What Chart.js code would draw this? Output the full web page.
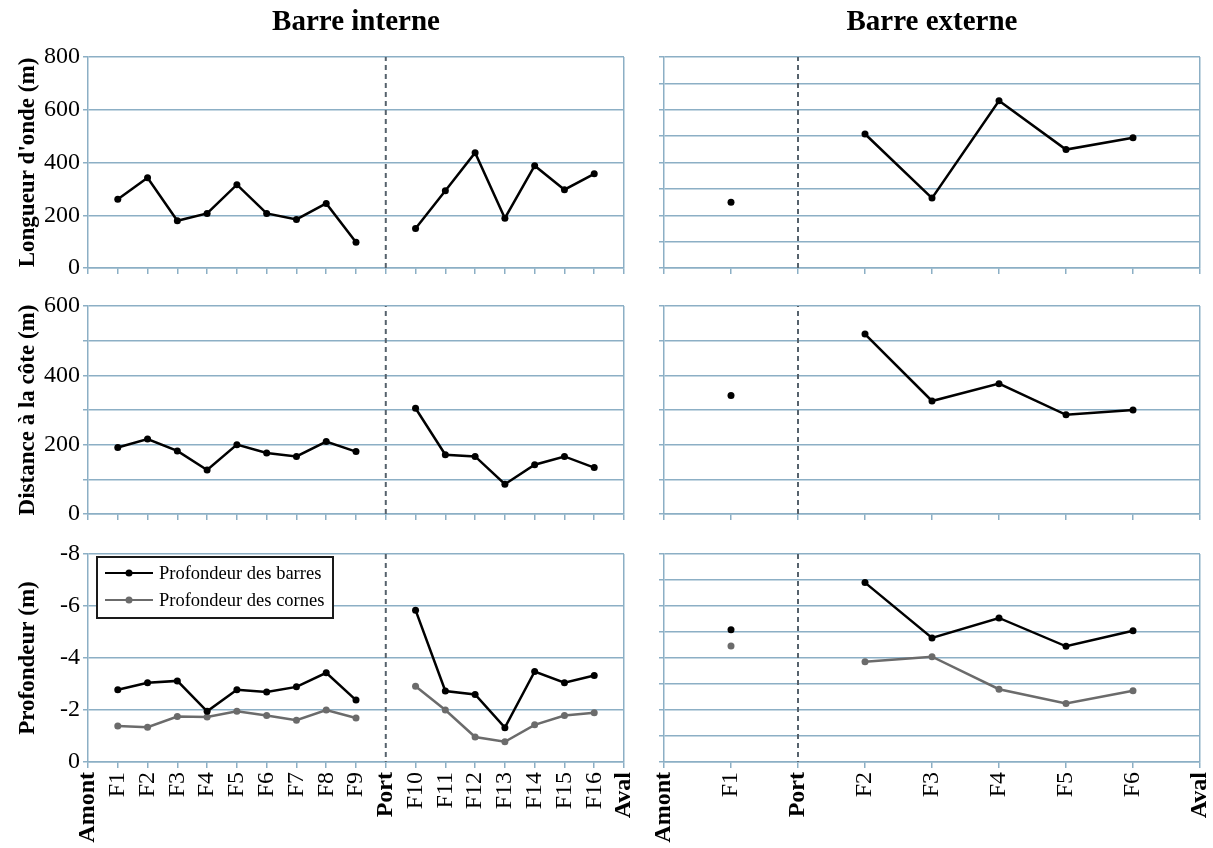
<!DOCTYPE html>
<html>
<head>
<meta charset="utf-8">
<script src="https://cdn.jsdelivr.net/npm/chart.js@4/dist/chart.umd.min.js"></script>
<style>
  html, body { margin:0; padding:0; background:#fff; width:1213px; height:848px; overflow:hidden; position:relative; }
  canvas { position:absolute; }
</style>
</head>
<body>
<canvas id="c11"></canvas>
<canvas id="c12"></canvas>
<canvas id="c21"></canvas>
<canvas id="c22"></canvas>
<canvas id="c31"></canvas>
<canvas id="c32"></canvas>
<script>
// ---------- data ----------
const labelsInterne = ['Amont','F1','F2','F3','F4','F5','F6','F7','F8','F9','Port','F10','F11','F12','F13','F14','F15','F16','Aval'];
const labelsExterne = ['Amont','F1','Port','F2','F3','F4','F5','F6','Aval'];
const boldLabels = ['Amont','Port','Aval'];

const longueurInterne = [null,261,342,179,207,316,207,184,245,98,null,150,293,437,189,388,297,357,null];
const longueurExterne = [null,249,null,508,265,634,449,494,null];

const distanceInterne = [null,192,216,182,127,200,176,166,209,180,null,305,171,166,86,142,166,134,null];
const distanceExterne = [null,342,null,519,326,376,286,300,null];

const barresInterne = [null,-2.78,-3.05,-3.12,-1.95,-2.78,-2.69,-2.89,-3.43,-2.38,null,-5.84,-2.73,-2.60,-1.32,-3.48,-3.05,-3.33,null];
const cornesInterne = [null,-1.38,-1.34,-1.75,-1.73,-1.95,-1.79,-1.61,-2.00,-1.69,null,-2.91,-2.00,-0.96,-0.78,-1.43,-1.79,-1.89,null];
const barresExterne = [null,-5.09,null,-6.90,-4.77,-5.54,-4.45,-5.05,null];
const cornesExterne = [null,-4.46,null,-3.86,-4.05,-2.80,-2.25,-2.74,null];

const titles = ['Barre interne','Barre externe'];
const axisTitles = ["Longueur d'onde (m)", 'Distance à la côte (m)', 'Profondeur (m)'];
const seriesNames = ['Profondeur des barres','Profondeur des cornes'];
const dividerLabel = 'Port';

// axis ranges
const longueurRange = [0, 800, 100, 200];
const distanceRange = [0, 600, 100, 200];
const profondeurRange = [-8, 0, 1, 2];

// ---------- styles ----------
const FONT = "'Liberation Serif', 'Times New Roman', serif";
const GRID = '#8cafc5';
const BLACK = '#000000';
const GREY = '#6b6b6b';

const boxLegend = {
  id: 'boxLegend',
  afterDatasetsDraw(chart, args, opts) {
    if (!opts || !opts.show) return;
    const { ctx, chartArea } = chart;
    const x0 = chartArea.left + opts.dx, y0 = chartArea.top + opts.dy;
    ctx.save();
    ctx.fillStyle = '#ffffff';
    ctx.fillRect(x0, y0, opts.w, opts.h);
    ctx.lineWidth = 2;
    ctx.strokeStyle = '#1a1a1a';
    ctx.strokeRect(x0, y0, opts.w, opts.h);
    const items = chart.data.datasets.filter(d => !d.isDivider);
    items.forEach((d, i) => {
      const y = y0 + opts.rowTop + i * opts.rowGap;
      ctx.strokeStyle = d.borderColor;
      ctx.lineWidth = 2;
      ctx.beginPath();
      ctx.moveTo(x0 + 8, y);
      ctx.lineTo(x0 + 56, y);
      ctx.stroke();
      ctx.fillStyle = d.pointBackgroundColor;
      ctx.beginPath();
      ctx.arc(x0 + 32, y, 3.5, 0, Math.PI * 2);
      ctx.fill();
      ctx.fillStyle = '#000';
      ctx.font = '18.5px ' + FONT;
      ctx.textBaseline = 'middle';
      ctx.textAlign = 'left';
      ctx.fillText(d.label, x0 + 62, y + 1);
    });
    ctx.restore();
  }
};

function xScale(labels, showLabels, height) {
  return {
    type: 'category',
    offset: false,
    grid: {
      display: true,
      drawOnChartArea: true,
      offset: false,
      color: (c) => (c.index === labels.length - 1 ? GRID : 'rgba(0,0,0,0)'),
      tickColor: GRID,
      lineWidth: 1.5,
      tickWidth: 1.5,
      tickLength: 6
    },
    border: { display: true, color: GRID, width: 1.5 },
    ticks: {
      display: showLabels,
      autoSkip: false,
      minRotation: 90,
      maxRotation: 90,
      padding: 4,
      color: '#000',
      font: (c) => ({ family: FONT, size: 24, weight: boldLabels.includes(labels[c.index]) ? 'bold' : 'normal' })
    },
    afterFit: (s) => { s.height = height; s.paddingLeft = 0; s.paddingRight = 0; }
  };
}

function yScale(range, title, showLabels, width, reverse) {
  const [min, max, step, every] = range;
  return {
    min, max, reverse: !!reverse,
    grid: { color: GRID, lineWidth: 1.5, tickColor: GRID, tickWidth: 1.5, tickLength: 5, drawTicks: true },
    border: { display: true, color: GRID, width: 1.5 },
    ticks: {
      display: showLabels,
      stepSize: step,
      padding: 3,
      color: '#000',
      font: { family: FONT, size: 24 },
      callback: (v) => (Math.abs(v % every) < 1e-9 ? String(v) : '')
    },
    title: {
      display: !!title,
      text: title || '',
      color: '#000',
      font: { family: FONT, size: 23, weight: 'bold' },
      padding: { top: 14, bottom: 0 }
    },
    afterFit: (s) => { s.width = width; s.paddingTop = 0; s.paddingBottom = 0; }
  };
}

function lineDS(label, data, color) {
  return {
    label, data,
    borderColor: color,
    backgroundColor: color,
    pointBackgroundColor: color,
    pointBorderColor: color,
    pointBorderWidth: 0,
    pointRadius: 3.5,
    borderWidth: 2.5,
    spanGaps: false,
    tension: 0
  };
}

function dividerDS(range) {
  return {
    label: dividerLabel,
    isDivider: true,
    data: [{ x: dividerLabel, y: range[0] }, { x: dividerLabel, y: range[1] }],
    borderColor: '#56626c',
    borderWidth: 2,
    borderDash: [5, 4],
    pointRadius: 0,
    clip: false
  };
}

// layout: col -> canvas left/width, y-axis width; row -> canvas top/height, padding top, x-axis height
const cols = [
  { left: 0, width: 640, yWidth: 88, labels: labelsInterne, showY: true },
  { left: 640, width: 576, yWidth: 24, labels: labelsExterne, showY: false }
];
const rows = [
  { top: 0, height: 284, padTop: 0, xH: 16, showX: false },
  { top: 284, height: 246, padTop: 22, xH: 16, showX: false },
  { top: 530, height: 318, padTop: 24, xH: 86, showX: true }
];

function panel(id, r, c, datasets, range, reverse, legendOpts) {
  const R = rows[r], C = cols[c];
  const cv = document.getElementById(id);
  cv.width = C.width; cv.height = R.height;
  cv.style.left = C.left + 'px'; cv.style.top = R.top + 'px';
  return new Chart(cv, {
    type: 'line',
    data: { labels: C.labels, datasets },
    options: {
      responsive: false,
      animation: false,
      devicePixelRatio: 1,
      events: [],
      layout: { padding: { top: R.padTop, left: 0, right: 16, bottom: 0 } },
      scales: {
        x: xScale(C.labels, R.showX, R.xH),
        y: yScale(range, C.showY ? axisTitles[r] : null, C.showY, C.yWidth, reverse)
      },
      plugins: {
        legend: { display: false },
        tooltip: { enabled: false },
        title: r === 0 ? {
          display: true, text: titles[c], fullSize: false, color: '#000',
          font: { family: FONT, size: 29, weight: 'bold' },
          padding: { top: 5, bottom: 17.2 }
        } : { display: false },
        boxLegend: legendOpts || { show: false }
      }
    },
    plugins: [boxLegend]
  });
}

panel('c11', 0, 0, [lineDS(axisTitles[0], longueurInterne, BLACK), dividerDS(longueurRange)], longueurRange, false);
panel('c12', 0, 1, [lineDS(axisTitles[0], longueurExterne, BLACK), dividerDS(longueurRange)], longueurRange, false);
panel('c21', 1, 0, [lineDS(axisTitles[1], distanceInterne, BLACK), dividerDS(distanceRange)], distanceRange, false);
panel('c22', 1, 1, [lineDS(axisTitles[1], distanceExterne, BLACK), dividerDS(distanceRange)], distanceRange, false);
panel('c31', 2, 0, [
  lineDS(seriesNames[0], barresInterne, BLACK),
  lineDS(seriesNames[1], cornesInterne, GREY),
  dividerDS(profondeurRange)
], profondeurRange, true, { show: true, dx: 9, dy: 3, w: 236, h: 61, rowTop: 16, rowGap: 27 });
panel('c32', 2, 1, [
  lineDS(seriesNames[0], barresExterne, BLACK),
  lineDS(seriesNames[1], cornesExterne, GREY),
  dividerDS(profondeurRange)
], profondeurRange, true);
</script>
</body>
</html>
